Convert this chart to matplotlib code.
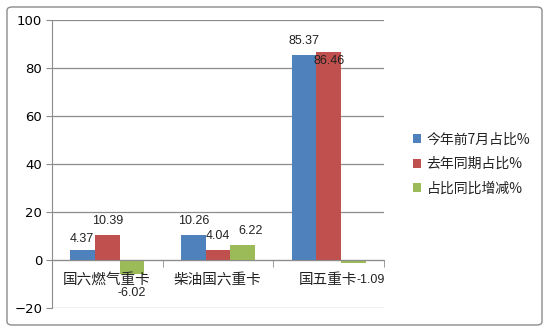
import matplotlib
matplotlib.use("Agg")
import matplotlib.pyplot as plt
from matplotlib.patches import FancyBboxPatch
import numpy as np

plt.rcParams['font.family'] = ['Noto Sans CJK SC', 'DejaVu Sans']

categories = ['国六燃气重卡', '柴油国六重卡', '国五重卡']
series_names = ['今年前7月占比%', '去年同期占比%', '占比同比增减%']
this_year = [4.37, 10.26, 85.37]
last_year = [10.39, 4.04, 86.46]
change = [-6.02, 6.22, -1.09]
colors = ['#4F81BD', '#C0504D', '#9BBB59']

# label offsets in pixels (dx, dy) relative to bar end
label_offsets = [
    [(-1, 11), (0, 14), (0, 14)],
    [(0, 14), (0, 14), (0, -8.5)],
    [(0, -19), (8, 14), (17, -17)],
]

fig = plt.figure(figsize=(5.5, 3.32), dpi=100)
fig.patch.set_facecolor('white')
border = FancyBboxPatch((7/550, 7/332), 535/550, 318/332,
                        boxstyle='round,pad=0,rounding_size=0.01',
                        transform=fig.transFigure, fill=False,
                        edgecolor='#8c8c8c', linewidth=1.0)
fig.patches.append(border)

ax = fig.add_axes([52/550, 1-308/332, 332/550, 288/332])
x = np.arange(len(categories))
w = 0.222
all_series = [this_year, last_year, change]
for i, (vals, col, name) in enumerate(zip(all_series, colors, series_names)):
    pos = x + (i - 1) * w
    ax.bar(pos, vals, width=w, color=col, label=name, zorder=3)
    for j, v in enumerate(vals):
        dx, dy = label_offsets[i][j]
        ax.annotate(f'{v:.2f}', (pos[j], v), xytext=(dx, dy),
                    textcoords='offset pixels', ha='center', va='center',
                    fontsize=9, family=['Liberation Sans'], color='#222222', zorder=7)

ax.set_xlim(-0.5, 2.5)
ax.set_ylim(-20, 100)
ax.set_yticks(range(-20, 101, 20))
ax.yaxis.grid(True, color='#8c8c8c', linewidth=0.9, zorder=0)
ax.tick_params(axis='y', length=4, color='#8c8c8c', labelsize=9.5, pad=3)
for lab in ax.get_yticklabels():
    lab.set_family(['DejaVu Sans'])

for s in ['top', 'right']:
    ax.spines[s].set_visible(False)
ax.spines['left'].set_color('#8c8c8c')
ax.spines['bottom'].set_position(('data', 0))
ax.spines['bottom'].set_color('#8c8c8c')
ax.spines['bottom'].set_zorder(4)
ax.set_xticks(x)
ax.set_xticklabels([])
ax.set_xticks([-0.5, 0.5, 1.5, 2.5], minor=True)
ax.tick_params(axis='x', which='major', length=0)
ax.tick_params(axis='x', which='minor', length=5, color='#8c8c8c', direction='out')

for j, c in enumerate(categories):
    ax.annotate(c, (x[j], 0), xytext=(-1, -20), textcoords='offset pixels',
                ha='center', va='center', fontsize=10.5, color='#222222', zorder=6)

handles, labels = ax.get_legend_handles_labels()
leg = fig.legend(handles, labels, loc='center left', bbox_to_anchor=(400/550, 1-164/332),
                 frameon=False, fontsize=10, handlelength=0.6, handleheight=0.6,
                 handletextpad=0.4, labelspacing=0.75)
for t in leg.get_texts():
    t.set_color('#222222')

fig.savefig('out.png', dpi=100)
